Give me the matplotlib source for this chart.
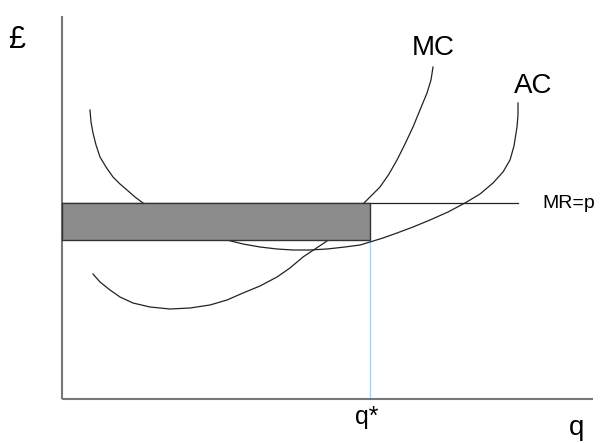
import numpy as np
import matplotlib
matplotlib.use("Agg")
import matplotlib.pyplot as plt
from matplotlib.patches import Rectangle

plt.rcParams["font.family"] = ["Liberation Sans", "DejaVu Sans"]

# ── Curve data (quantity, £) ──
mc_q = [31, 38, 48, 58, 71, 88, 108, 128, 148, 165, 181, 198, 215, 228, 241,
        253, 265, 283, 302, 310, 318, 327, 335, 343, 351, 358, 365, 369, 371]
mc_p = [125, 117, 109, 102, 96, 92, 90, 91, 94, 99, 106, 113, 122, 131, 142,
        150, 158, 177, 196, 204, 212, 225, 239, 255, 272, 289, 306, 319, 332]

ac_q = [28, 29, 31, 34, 38, 44, 51, 58, 65, 73, 81, 103, 123, 143, 165, 181,
        198, 215, 231, 248, 265, 283, 298, 308, 321, 335, 351, 368, 386, 403,
        418, 431, 441, 448, 452, 455, 456, 456]
ac_p = [289, 277, 266, 254, 242, 232, 222, 215, 209, 202, 196, 183, 173, 165,
        159, 155, 152, 150, 149, 149, 150, 152, 154, 157, 161, 166, 172, 179,
        187, 196, 205, 216, 227, 239, 253, 272, 284, 296]

price = 196        # MR = p
q_star = 308       # profit-maximising output
ac_at_q = 159      # average cost at q*
mr_end = 456
x_axis_end = 531
y_axis_end = 383

fig = plt.figure(figsize=(6.09, 4.43), dpi=100)
ax = fig.add_axes([0, 0, 1, 1])
ax.set_xlim(-62, 547)
ax.set_ylim(-44, 399)
ax.axis("off")

# axes
ax.plot([0, 0], [0, y_axis_end], color="#777777", lw=1.5, solid_capstyle="butt")
ax.plot([0, x_axis_end], [0, 0], color="#777777", lw=1.5, solid_capstyle="butt")

# cost curves
ax.plot(mc_q, mc_p, color="#222222", lw=0.9, zorder=2)
ax.plot(ac_q, ac_p, color="#222222", lw=0.9, zorder=2)

# MR = p line
ax.plot([0, mr_end], [price, price], color="#222222", lw=0.9, zorder=2)

# profit rectangle
ax.add_patch(Rectangle((0, ac_at_q), q_star, price - ac_at_q,
                       facecolor="#8c8c8c", edgecolor="#333333", lw=1.0, zorder=3))

# q* guide
ax.plot([q_star, q_star], [0, ac_at_q], color="#a8d0ee", lw=0.9, zorder=1)

# labels
ax.text(-45, 359, "£", fontsize=22, ha="center", va="center")
ax.text(371, 351, "MC", fontsize=20, ha="center", va="center")
ax.text(471, 313, "AC", fontsize=20, ha="center", va="center")
ax.text(480, 196, "MR=p", fontsize=14, ha="left", va="center")
ax.text(305, -6, "q*", fontsize=18, ha="center", va="top")
ax.text(515, -16, "q", fontsize=20, ha="center", va="top")

fig.savefig("out.png", dpi=100)
